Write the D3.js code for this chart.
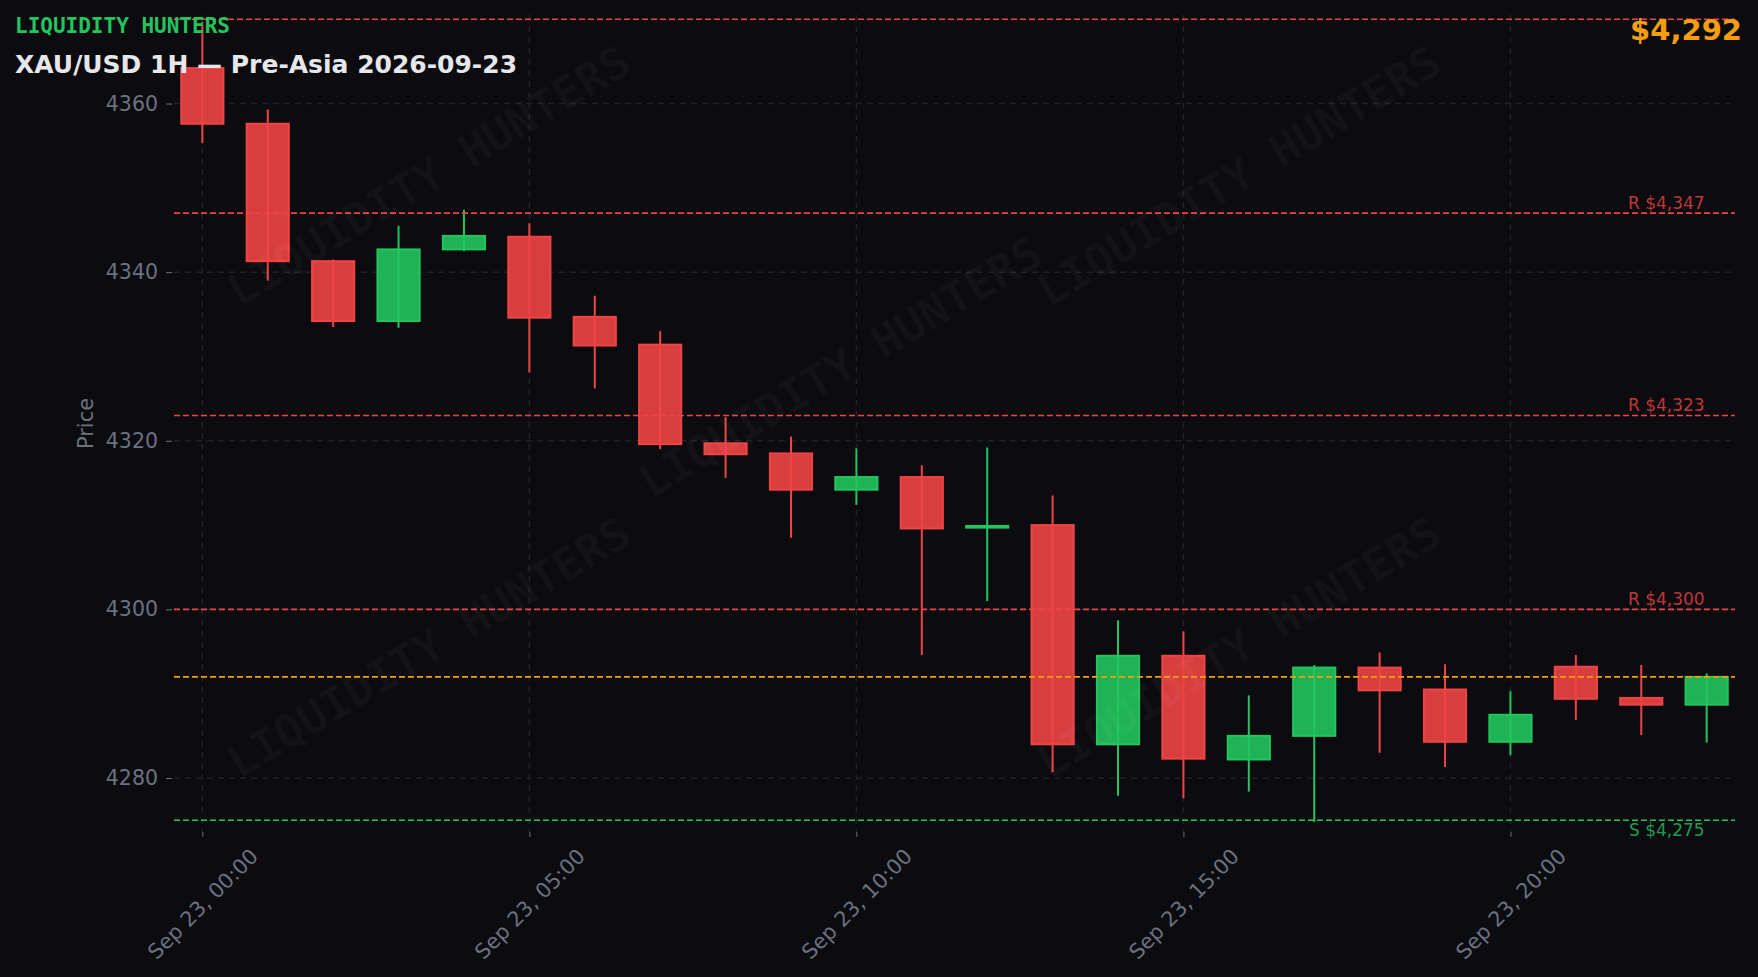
<!DOCTYPE html>
<html><head><meta charset="utf-8">
<script src="https://cdn.jsdelivr.net/npm/d3@7"></script>
<style>
html,body{margin:0;padding:0;background:#0b0b10;}
svg{display:block;}
</style></head><body>
<svg id="chart" width="1758" height="977"></svg>
<script>
// ---------- data ----------
const times = ["2026-09-23 00:00","2026-09-23 01:00","2026-09-23 02:00","2026-09-23 03:00","2026-09-23 04:00","2026-09-23 05:00",
"2026-09-23 06:00","2026-09-23 07:00","2026-09-23 08:00","2026-09-23 09:00","2026-09-23 10:00","2026-09-23 11:00",
"2026-09-23 12:00","2026-09-23 13:00","2026-09-23 14:00","2026-09-23 15:00","2026-09-23 16:00","2026-09-23 17:00",
"2026-09-23 18:00","2026-09-23 19:00","2026-09-23 20:00","2026-09-23 21:00","2026-09-23 22:00","2026-09-23 23:00"];
const opens  = [4364.2,4357.6,4341.3,4334.2,4342.7,4344.2,4334.7,4331.4,4319.7,4318.5,4314.2,4315.7,4309.7,4310.0,4284.0,4294.5,4282.2,4285.0,4293.1,4290.5,4284.3,4293.2,4289.5,4288.7];
const highs  = [4369.7,4359.3,4341.5,4345.5,4347.4,4345.8,4337.2,4333.0,4322.8,4320.5,4319.1,4317.1,4319.2,4313.5,4298.7,4297.4,4289.8,4293.4,4294.9,4293.5,4290.3,4294.6,4293.4,4292.4];
const lows   = [4355.3,4339.0,4333.5,4333.4,4342.5,4328.1,4326.2,4319.0,4315.6,4308.5,4312.4,4294.6,4301.0,4280.7,4277.9,4277.6,4278.4,4274.8,4283.0,4281.3,4282.7,4286.9,4285.1,4284.2];
const closes = [4357.6,4341.3,4334.2,4342.7,4344.3,4334.6,4331.3,4319.6,4318.4,4314.2,4315.7,4309.6,4309.9,4284.0,4294.5,4282.3,4285.0,4293.1,4290.4,4284.3,4287.5,4289.4,4288.7,4292.0];
const yTicks = [4280,4300,4320,4340,4360];
const yDomain = [4273.6,4370.5];
const resistanceLevels = [4370,4347,4323,4300];
const supportLevels = [4275];
const lastPrice = 4292;
const brandText = "LIQUIDITY HUNTERS";
const titleText = "XAU/USD 1H — Pre-Asia 2026-09-23";
const yAxisTitle = "Price";
</script>
<script>
const W = 1758, H = 977;
const M = {left:174, right:W-1735, top:15, bottom:H-832};
const svg = d3.select("#chart");
const parse = d3.timeParse("%Y-%m-%d %H:%M");
const data = times.map((t,i)=>({t:parse(t),o:opens[i],h:highs[i],l:lows[i],c:closes[i]}));
const pad = 26*60*1000;
const x = d3.scaleTime()
  .domain([new Date(data[0].t - pad), new Date(+data[data.length-1].t + pad)])
  .range([M.left, W-M.right]);
const y = d3.scaleLinear().domain(yDomain).range([H-M.bottom, M.top]);
const plotW = W-M.left-M.right, plotH = H-M.top-M.bottom;

const RED="#ef4444", GREEN="#22c55e", ORANGE="#f59e0b", GRAY="#6b7280", GRID="#202129";

svg.append("rect").attr("width",W).attr("height",H).attr("fill","#0b0b10");
svg.append("defs").append("clipPath").attr("id","clip")
  .append("rect").attr("x",M.left).attr("y",M.top).attr("width",plotW).attr("height",plotH);

// grid
const xTicks = d3.timeHour.every(5).range(data[0].t, new Date(+data[data.length-1].t+1));
const grid = svg.append("g").attr("clip-path","url(#clip)");
grid.selectAll("line.h").data(yTicks).join("line")
  .attr("x1",M.left).attr("x2",W-M.right).attr("y1",d=>y(d)).attr("y2",d=>y(d))
  .attr("stroke",GRID).attr("stroke-width",1.5).attr("stroke-dasharray","6,5");
grid.selectAll("line.v").data(xTicks).join("line")
  .attr("x1",d=>x(d)).attr("x2",d=>x(d)).attr("y1",M.top).attr("y2",H-M.bottom)
  .attr("stroke",GRID).attr("stroke-width",1.5).attr("stroke-dasharray","6,5");

// axes
const yAxis = svg.append("g").attr("transform",`translate(${M.left},0)`)
  .call(d3.axisLeft(y).tickValues(yTicks).tickSize(6).tickPadding(8).tickFormat(d3.format("d")));
yAxis.select(".domain").remove();
yAxis.selectAll(".tick line").attr("stroke",GRAY).attr("transform","translate(-2,0)");
yAxis.selectAll(".tick text").attr("fill",GRAY).attr("font-family","DejaVu Sans").attr("font-size",20.5).attr("x",-16);

const xAxis = svg.append("g").attr("transform",`translate(0,${H-M.bottom})`)
  .call(d3.axisBottom(x).tickValues(xTicks).tickSize(5).tickFormat(d3.timeFormat("%b %d, %H:%M")));
xAxis.select(".domain").remove();
xAxis.selectAll(".tick line").attr("stroke",GRAY);
xAxis.selectAll(".tick text").attr("fill",GRAY).attr("font-family","DejaVu Sans").attr("font-size",20.8)
  .attr("text-anchor","middle").attr("dy","0.35em").attr("y",72)
  .attr("transform","rotate(-45 0 72)");

svg.append("text").text(yAxisTitle)
  .attr("transform",`translate(${M.left-88},${M.top+plotH/2}) rotate(-90)`)
  .attr("text-anchor","middle").attr("dy","0.35em")
  .attr("fill",GRAY).attr("font-family","DejaVu Sans").attr("font-size",21);

// candles
const step = x(d3.timeHour.offset(data[0].t,1)) - x(data[0].t);
const bw = step*0.645;
const cg = svg.append("g").attr("clip-path","url(#clip)");
const col = d => d.c >= d.o ? GREEN : RED;
cg.selectAll("line.wick").data(data).join("line")
  .attr("x1",d=>x(d.t)).attr("x2",d=>x(d.t)).attr("y1",d=>y(d.h)).attr("y2",d=>y(d.l))
  .attr("stroke",col).attr("stroke-width",2);
cg.selectAll("rect.body").data(data).join("rect")
  .attr("x",d=>x(d.t)-bw/2).attr("width",bw)
  .attr("y",d=>y(Math.max(d.o,d.c)))
  .attr("height",d=>Math.max(0.5, Math.abs(y(d.o)-y(d.c))))
  .attr("fill",col).attr("fill-opacity",0.9)
  .attr("stroke",col).attr("stroke-width",2);

// levels
const lg = svg.append("g").attr("clip-path","url(#clip)");
const levels = resistanceLevels.map(v=>({v,type:"R",color:RED}))
  .concat(supportLevels.map(v=>({v,type:"S",color:GREEN})));
lg.selectAll("line.lvl").data(levels).join("line")
  .attr("x1",M.left).attr("x2",W-M.right).attr("y1",d=>y(d.v)).attr("y2",d=>y(d.v))
  .attr("stroke",d=>d.color).attr("stroke-width",1.6).attr("stroke-dasharray","6,3");
lg.append("line").attr("x1",M.left).attr("x2",W-M.right).attr("y1",y(lastPrice)).attr("y2",y(lastPrice))
  .attr("stroke",ORANGE).attr("stroke-width",1.6).attr("stroke-dasharray","6,3");
const fmt = d3.format("$,");
svg.append("g").selectAll("text").data(levels.filter(d=>y(d.v)-16>M.top)).join("text")
  .text(d=>`${d.type} ${fmt(d.v)}`)
  .attr("x",x(data[data.length-1].t)-2).attr("text-anchor","end")
  .attr("y",d=>d.type==="R"? y(d.v)-4 : y(d.v)+16)
  .attr("fill",d=>d.color).attr("fill-opacity",0.8)
  .attr("font-family","DejaVu Sans").attr("font-size",17);

// watermark
const wmPos = [[0.163,0.197],[0.427,0.431],[0.682,0.197],[0.163,0.774],[0.682,0.774]];
svg.append("g").selectAll("text").data(wmPos).join("text")
  .text(brandText)
  .attr("transform",d=>`translate(${M.left+d[0]*plotW},${M.top+d[1]*plotH}) rotate(-31)`)
  .attr("text-anchor","middle").attr("dy","0.35em")
  .attr("fill","#ffffff").attr("fill-opacity",0.035)
  .attr("font-family","DejaVu Sans Mono").attr("font-weight","bold").attr("font-size",45);

// headers
svg.append("text").text(brandText).attr("x",15).attr("y",33)
  .attr("fill",GREEN).attr("font-family","DejaVu Sans Mono").attr("font-weight","bold").attr("font-size",21);
svg.append("text").text(titleText).attr("x",15).attr("y",73)
  .attr("fill","#e5e7eb").attr("font-family","DejaVu Sans").attr("font-weight","bold").attr("font-size",25);
svg.append("text").text(fmt(lastPrice)).attr("x",1742).attr("y",39.5).attr("text-anchor","end")
  .attr("fill",ORANGE).attr("font-family","DejaVu Sans").attr("font-weight","bold").attr("font-size",29);
</script>
</body></html>
